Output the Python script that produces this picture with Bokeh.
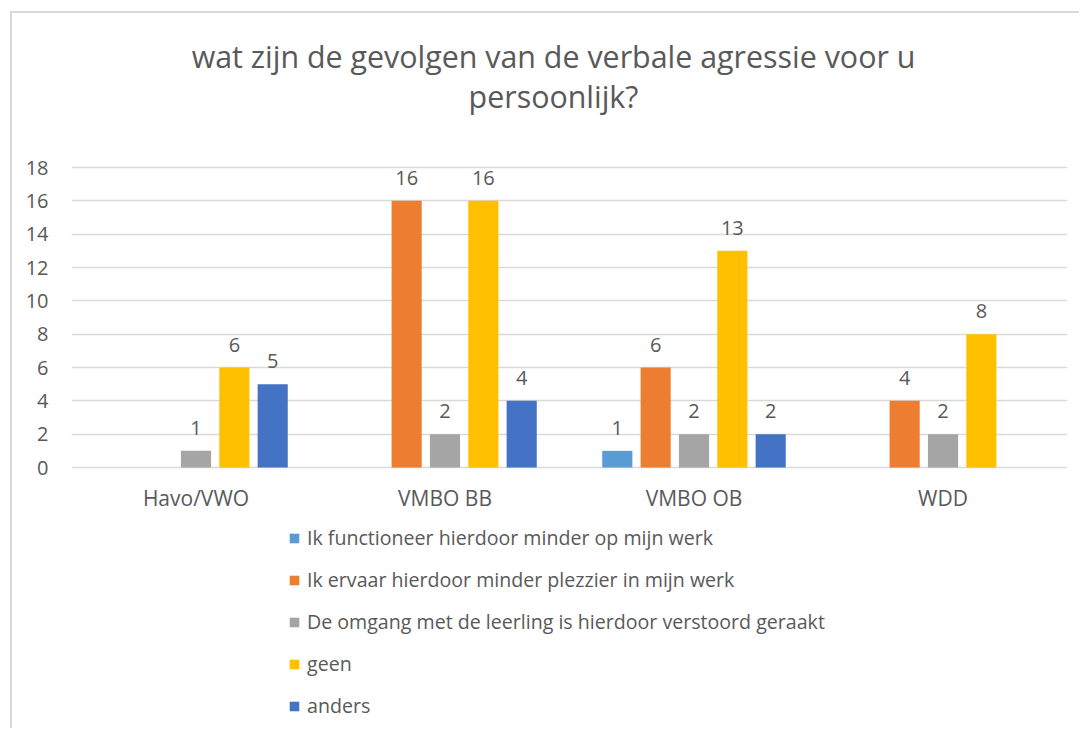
from bokeh.plotting import figure
from bokeh.models import (ColumnDataSource, FactorRange, Range1d, FixedTicker, Legend, LegendItem)
from bokeh.transform import dodge
from bokeh.core.properties import value
from bokeh.embed import file_html
from bokeh.resources import INLINE

categories = ["Havo/VWO", "VMBO BB", "VMBO OB", "WDD"]
series_names = [
    "Ik functioneer hierdoor minder op mijn werk",
    "Ik ervaar hierdoor minder plezzier in mijn werk",
    "De omgang met de leerling is hierdoor verstoord geraakt",
    "geen",
    "anders",
]
functioneer = [0, 0, 1, 0]
plezier = [0, 16, 6, 4]
omgang = [1, 2, 2, 2]
geen = [6, 16, 13, 8]
anders = [5, 4, 2, 0]
series_values = [functioneer, plezier, omgang, geen, anders]
colors = ["#5B9BD5", "#ED7D31", "#A5A5A5", "#FFC000", "#4472C4"]
y_ticks = [0, 2, 4, 6, 8, 10, 12, 14, 16, 18]
title_lines = ["wat zijn de gevolgen van de verbale agressie voor u", "persoonlijk?"]

FONT = "Open Sans"
TXT = "#595959"
GRID = "#D9D9D9"

# layout (canvas pixels; canvas origin sits at window (12, 13) after CSS margin + border)
W, H = 1069, 717
FL, FR = 59, 1055          # frame left / right
Y18, Y0 = 154, 454         # canvas y of value 18 and value 0
ppu = (Y0 - Y18) / 18.0
y_top = 18 + Y18 / ppu
y_bot = -(H - Y0) / ppu
cat_px = (FR - FL) / len(categories)

p = figure(x_range=FactorRange(*categories), y_range=Range1d(y_bot, y_top),
           width=W, height=H, output_backend="svg", toolbar_location=None,
           min_border=0, min_border_left=FL, min_border_right=W - FR)
p.styles = {"margin-left": "10px", "margin-top": "11px",
            "border-left": "2px solid #D9D9D9", "border-top": "2px solid #D9D9D9"}
p.x_range.range_padding = 0
p.outline_line_color = None
p.title.visible = False
p.xaxis.visible = False

# title as text inside the frame
tx = (541 - FL) / cat_px
p.text(x=[tx, tx], y=[18 + (Y18 - 43) / ppu, 18 + (Y18 - 83) / ppu], text=title_lines,
       text_align="center", text_baseline="middle", text_font=value(FONT),
       text_font_size="30.4px", text_color=TXT)

step = 0.154
bar_w = 0.121
items = []
for i, (name, vals, col) in enumerate(zip(series_names, series_values, colors)):
    off = (i - 2) * step
    src = ColumnDataSource(dict(cat=categories, val=vals))
    r = p.vbar(x=dodge("cat", off, range=p.x_range), top="val", width=bar_w, source=src,
               fill_color=col, line_color=None)
    items.append(LegendItem(label=name, renderers=[r]))
    nz = [(c, v) for c, v in zip(categories, vals) if v != 0]
    lsrc = ColumnDataSource(dict(cat=[c for c, _ in nz], val=[v for _, v in nz],
                                 txt=[str(v) for _, v in nz]))
    p.text(x=dodge("cat", off, range=p.x_range), y="val", text="txt", source=lsrc,
           text_align="center", text_baseline="middle", y_offset=-23,
           text_font=value(FONT), text_font_size="20px", text_color=TXT)

# category labels
p.text(x=categories, y=[0] * len(categories), text=categories, y_offset=30,
       text_align="center", text_baseline="middle", text_font=value(FONT),
       text_font_size="21px", text_color=TXT)

p.yaxis.ticker = FixedTicker(ticks=y_ticks)
p.yaxis.axis_line_color = None
p.yaxis.major_tick_line_color = None
p.yaxis.minor_tick_line_color = None
p.yaxis.major_label_standoff = 17
p.yaxis.major_label_text_font = FONT
p.yaxis.major_label_text_font_size = "20px"
p.yaxis.major_label_text_color = TXT

p.xgrid.grid_line_color = None
p.ygrid.grid_line_color = GRID
p.ygrid.grid_line_width = 1.5

legend = Legend(items=items, location=(217, 11), orientation="vertical",
                glyph_width=12, glyph_height=12, label_standoff=7, spacing=15,
                label_height=26, padding=0, margin=0, border_line_color=None,
                background_fill_alpha=0,
                label_text_font=FONT, label_text_font_size="19.6px", label_text_color=TXT)
p.add_layout(legend, "center")

open("out.html", "w").write(file_html(p, INLINE))
